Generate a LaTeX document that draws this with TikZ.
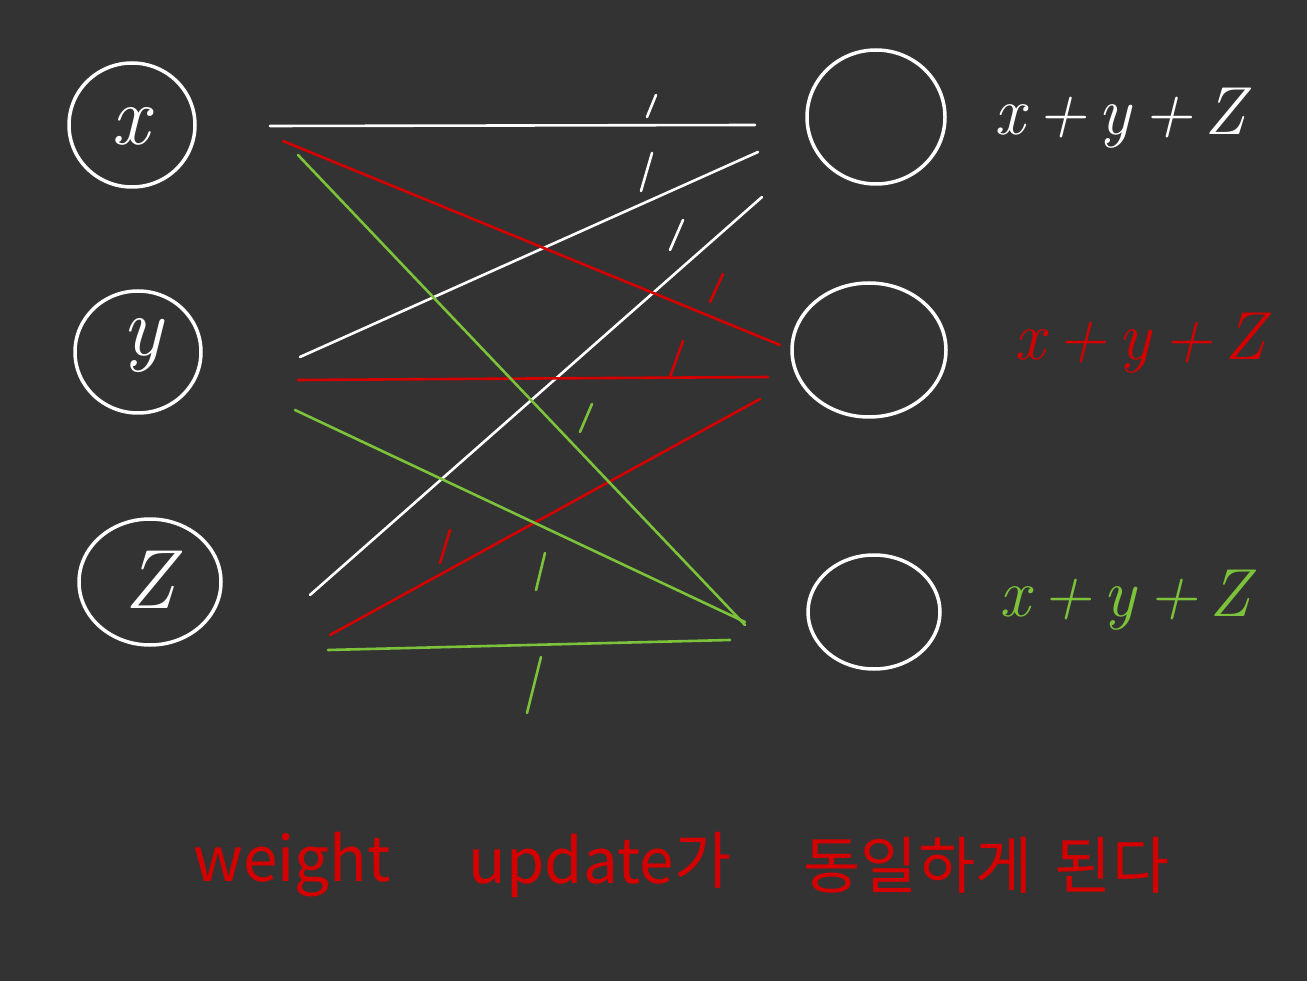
\documentclass[tikz,border=0pt]{standalone}
\usepackage{fontspec}
\newfontfamily\kr{Noto Sans CJK KR}
\usetikzlibrary{shapes.geometric}
\definecolor{bg}{HTML}{333333}
\definecolor{pred}{HTML}{D40000}
\definecolor{pgreen}{HTML}{7CC23A}
\begin{document}
\begin{tikzpicture}[x=1pt,y=-1pt,
  wline/.style={line width=2.6pt,line cap=round},
  tick/.style={line width=2.6pt,line cap=round},
  ring/.style={white,line width=3.5pt},
  inlab/.style={text=white,font=\fontsize{84}{84}\selectfont\itshape},
  outlab/.style={font=\fontsize{68}{68}\selectfont\itshape},
  note/.style={text=pred,font=\kr\fontsize{62}{62}\selectfont}]
\useasboundingbox[fill=bg] (0,0) rectangle (1307,981);
% input neurons
\draw[ring] (132,125) ellipse [x radius=63,y radius=62];
\node[inlab] (lx) at (130,126) {x};
\draw[ring] (138,352) ellipse [x radius=63,y radius=61];
\node[inlab] (ly) at (142,346) {y};
\draw[ring] (150,582) ellipse [x radius=71,y radius=63];
\node[inlab] (lz) at (150,580) {Z};
% output neurons
\draw[ring] (876,117) ellipse [x radius=69,y radius=67];
\draw[ring] (869,350) ellipse [x radius=77,y radius=67];
\draw[ring] (874,612) ellipse [x radius=66,y radius=57];
\node[outlab,text=white] (o1) at (1120,118) {x\,+\,y\,+\,Z};
\node[outlab,text=pred] (o2) at (1140,343) {x\,+\,y\,+\,Z};
\node[outlab,text=pgreen] (o3) at (1125,600) {x\,+\,y\,+\,Z};
% end points
\coordinate (xa) at (270,126); \coordinate (xb) at (283,141); \coordinate (xc) at (298,155);
\coordinate (ya) at (300,357); \coordinate (yb) at (298,380); \coordinate (yc) at (295,410);
\coordinate (za) at (310,595); \coordinate (zb) at (330,635); \coordinate (zc) at (328,650);
\coordinate (p1a) at (755,125); \coordinate (p1b) at (758,152); \coordinate (p1c) at (762,197);
\coordinate (p2a) at (780,345); \coordinate (p2b) at (768,377); \coordinate (p2c) at (760,399);
\coordinate (p3a) at (745,625); \coordinate (p3b) at (745,622); \coordinate (p3c) at (730,640);
% white
\draw[wline,white] (xa) -- (p1a);
\draw[wline,white] (ya) -- (p1b);
\draw[wline,white] (za) -- (p1c);
% red
\draw[wline,pred] (xb) -- (p2a);
\draw[wline,pred] (yb) -- (p2b);
\draw[wline,pred] (zb) -- (p2c);
% green
\draw[wline,pgreen] (xc) -- (p3a);
\draw[wline,pgreen] (yc) -- (p3b);
\draw[wline,pgreen] (zc) -- (p3c);
% ticks
\draw[tick,white] (647,117) -- (656,95);
\draw[tick,white] (641,191) -- (652,153);
\draw[tick,white] (670,250) -- (683,220);
\draw[tick,pred] (710,302) -- (723,274);
\draw[tick,pred] (670,377) -- (683,341);
\draw[tick,pred] (440,563) -- (450,530);
\draw[tick,pgreen] (580,432) -- (592,404);
\draw[tick,pgreen] (536,590) -- (545,553);
\draw[tick,pgreen] (527,713) -- (541,657);
% note
\node[note] (n1) at (292,865) {weight};
\node[note] (n2) at (600,865) {update가};
\node[note] (n3) at (918,865) {동일하게};
\node[note] (n4) at (1112,865) {된다};
\end{tikzpicture}
\end{document}
